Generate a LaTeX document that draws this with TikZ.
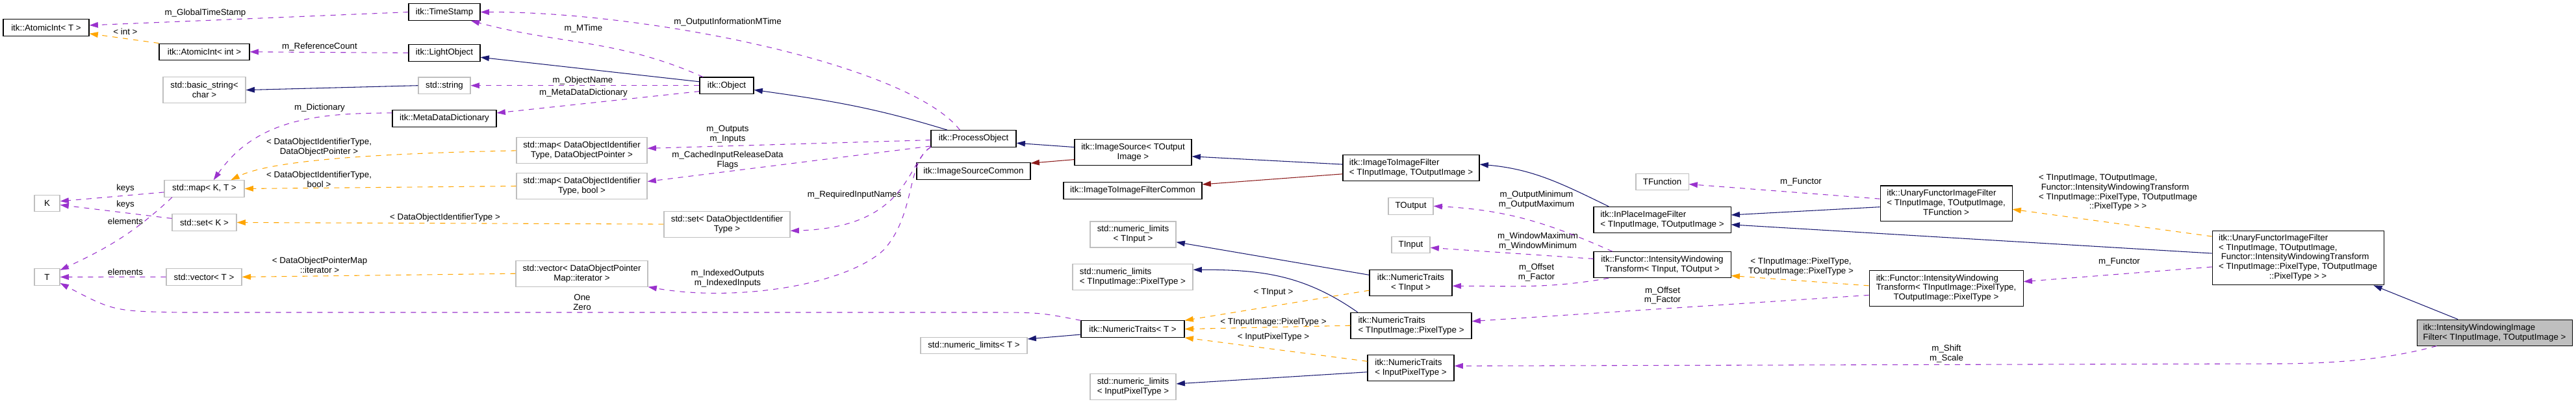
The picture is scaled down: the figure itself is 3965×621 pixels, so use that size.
\documentclass[tikz,border=0pt]{standalone}
\usepackage{fontspec}
\setmainfont{Liberation Sans}
\usepackage{xcolor}
\usepackage{tikz}
\usetikzlibrary{arrows.meta}
\definecolor{inhblue}{HTML}{191970}
\definecolor{privred}{HTML}{8B1A1A}
\definecolor{memberviolet}{HTML}{9A32CD}
\definecolor{tmplorange}{HTML}{FFA500}
\definecolor{extgrey}{HTML}{BFBFBF}
\newcommand{\lastc}[1]{\multicolumn{1}{@{}c@{}}{#1}}

\begin{document}
\begin{tikzpicture}[x=0.75pt, y=-0.75pt, font=\fontsize{10}{11.2}\selectfont,
  cls/.style={draw=black, line width=0.8pt, inner sep=1pt, minimum height=19.1pt, align=center},
  ext/.style={cls, draw=extgrey},
  lines2/.style={minimum height=30pt},
  lines3/.style={minimum height=41pt},
  lbl/.style={inner sep=0pt, align=center},
  inh/.style={color=inhblue, line width=0.8pt, -{Triangle[length=10pt,width=6.5pt]}},
  priv/.style={inh, color=privred},
  member/.style={inh, color=memberviolet, dash pattern=on 6pt off 6pt},
  tmpl/.style={member, color=tmplorange}]
\useasboundingbox (0,0) rectangle (3965,621);
\node[cls, minimum width=99pt] (AtomicIntT) at (71,42.4) {itk::AtomicInt< T >};
\node[cls, minimum width=104.25pt] (AtomicIntInt) at (314.5,79.8) {itk::AtomicInt< int >};
\node[ext, lines2, minimum width=95.25pt] (BasicString) at (314.5,138.6) {std::basic\_string<\\ char >};
\node[ext, minimum width=92.25pt] (MapKT) at (314.5,290.5) {std::map< K, T >};
\node[ext, minimum width=29.25pt] (K) at (72.5,313) {K};
\node[ext, minimum width=74.25pt] (SetK) at (314.5,342.5) {std::set< K >};
\node[ext, minimum width=29.25pt] (T) at (72.5,426.5) {T};
\node[ext, minimum width=87pt] (VectorT) at (314,426.4) {std::vector< T >};
\node[cls, minimum width=82.5pt] (TimeStamp) at (684,18.6) {itk::TimeStamp};
\node[cls, minimum width=82.5pt] (LightObject) at (684,81.4) {itk::LightObject};
\node[ext, minimum width=60pt] (StdString) at (684,131.7) {std::string};
\node[cls, minimum width=120pt] (MetaDict) at (684,182.4) {itk::MetaDataDictionary};
\node[cls, minimum width=62.25pt] (Object) at (1118.5,131.7) {itk::Object};
\node[ext, lines2, minimum width=150.75pt] (MapDOP) at (895.5,231.9) {std::map< DataObjectIdentifier\\Type, DataObjectPointer >};
\node[ext, lines2, minimum width=150.75pt] (MapBool) at (895.5,286.5) {std::map< DataObjectIdentifier\\Type, bool >};
\node[ext, lines2, minimum width=145.5pt] (SetDOI) at (1119,345.1) {std::set< DataObjectIdentifier\\Type >};
\node[ext, lines2, minimum width=152.25pt] (VectorIt) at (895.5,421.2) {std::vector< DataObjectPointer\\Map::iterator >};
\node[cls, minimum width=98.25pt] (ProcessObject) at (1498.5,213.3) {itk::ProcessObject};
\node[cls, minimum width=131.25pt] (SourceCommon) at (1498.5,263.6) {itk::ImageSourceCommon};
\node[cls, lines2, minimum width=135pt] (ImageSource) at (1744,234.5) {itk::ImageSource< TOutput\\Image >};
\node[cls, minimum width=159.75pt] (FilterCommon) at (1743.5,293.3) {itk::ImageToImageFilterCommon};
\node[ext, lines2, minimum width=99pt] (LimitsTInput) at (1744,361) {std::numeric\_limits\\< TInput >};
\node[ext, lines2, align=left, minimum width=138.75pt] (LimitsTIIPT) at (1743.5,426.7) {std::numeric\_limits\\< TInputImage::PixelType >};
\node[cls, minimum width=119.25pt] (TraitsT) at (1743.5,506.6) {itk::NumericTraits< T >};
\node[ext, minimum width=123pt] (LimitsT) at (1499,532.1) {std::numeric\_limits< T >};
\node[ext, lines2, align=left, minimum width=99pt] (LimitsIPT) at (1744,595.6) {std::numeric\_limits\\< InputPixelType >};
\node[cls, lines2, align=left, minimum width=157.5pt] (ImageToImage) at (2172,258.6) {itk::ImageToImageFilter\\< TInputImage, TOutputImage >};
\node[ext, minimum width=51.75pt] (TOutput) at (2171.5,317.3) {TOutput};
\node[ext, minimum width=44.25pt] (TInput) at (2171.5,377.1) {TInput};
\node[cls, lines2, minimum width=95.25pt] (TraitsTInput) at (2171.5,435.8) {itk::NumericTraits\\< TInput >};
\node[cls, lines2, align=left, minimum width=139.5pt] (TraitsTIIPT) at (2172,501.2) {itk::NumericTraits\\< TInputImage::PixelType >};
\node[cls, lines2, align=left, minimum width=99.75pt] (TraitsIPT) at (2171.5,566.9) {itk::NumericTraits\\< InputPixelType >};
\node[ext, minimum width=60.75pt] (TFunction) at (2558.5,280) {TFunction};
\node[cls, lines2, align=left, minimum width=158.25pt] (InPlace) at (2558.5,338.4) {itk::InPlaceImageFilter\\< TInputImage, TOutputImage >};
\node[cls, lines2, minimum width=158.25pt] (WinTransform) at (2558.5,407.7) {itk::Functor::IntensityWindowing\\Transform< TInput, TOutput >};
\node[cls, lines3, minimum width=152.25pt] (UnaryFunction) at (2995.5,313.3) {\begin{tabular}{@{}l@{}}itk::UnaryFunctorImageFilter\\< TInputImage, TOutputImage,\\\lastc{TFunction >}\end{tabular}};
\node[cls, lines3, minimum width=177.75pt] (WinTransformPix) at (2995.5,444) {\begin{tabular}{@{}l@{}}itk::Functor::IntensityWindowing\\Transform< TInputImage::PixelType,\\\lastc{TOutputImage::PixelType >}\end{tabular}};
\node[cls, minimum height=62.7pt, minimum width=198pt] (UnaryWindowing) at (3537,397) {\begin{tabular}{@{}l@{}}itk::UnaryFunctorImageFilter\\< TInputImage, TOutputImage,\\\ Functor::IntensityWindowingTransform\\< TInputImage::PixelType, TOutputImage\\\lastc{::PixelType > >}\end{tabular}};
\node[cls, lines2, align=left, fill=extgrey, minimum width=179.25pt] (WinFilter) at (3839.5,512.1) {itk::IntensityWindowingImage\\Filter< TInputImage, TOutputImage >};

\node[lbl] (lGlobalStamp) at (316,19.8) {m\_GlobalTimeStamp};
\node[lbl] (lIntArg) at (193,48.3) {< int >};
\node[lbl] (lRefCount) at (492,72.5) {m\_ReferenceCount};
\node[lbl] (lDictionary) at (492,166.3) {m\_Dictionary};
\node[lbl] (lMapPointer) at (491,226.8) {< DataObjectIdentifierType,\\DataObjectPointer >};
\node[lbl] (lMapBool) at (491,276) {< DataObjectIdentifierType,\\bool >};
\node[lbl] (lSetId) at (685,334.7) {< DataObjectIdentifierType >};
\node[lbl] (lKeysMap) at (193,290.3) {keys};
\node[lbl] (lKeysSet) at (193,315.2) {keys};
\node[lbl] (lElemMap) at (193,340.6) {elements};
\node[lbl] (lElemVec) at (193,418.6) {elements};
\node[lbl] (lIterator) at (492,408) {< DataObjectPointerMap\\::iterator >};
\node[lbl] (lOneZero) at (896,465.3) {One\\Zero};
\node[lbl] (lMTime) at (898,43.6) {m\_MTime};
\node[lbl] (lInfoMTime) at (1120,34.5) {m\_OutputInformationMTime};
\node[lbl] (lObjName) at (897,123.6) {m\_ObjectName};
\node[lbl] (lMetaDict) at (898,143.4) {m\_MetaDataDictionary};
\node[lbl] (lInOut) at (1120,206.7) {m\_Outputs\\m\_Inputs};
\node[lbl] (lRelease) at (1120,246.7) {m\_CachedInputReleaseData\\Flags};
\node[lbl] (lRequired) at (1315,300.2) {m\_RequiredInputNames};
\node[lbl] (lIndexed) at (1120,428.1) {m\_IndexedOutputs\\m\_IndexedInputs};
\node[lbl] (lArgTInput) at (1960,450.7) {< TInput >};
\node[lbl] (lArgPixel) at (1960,496.2) {< TInputImage::PixelType >};
\node[lbl] (lArgIPT) at (1960,518.8) {< InputPixelType >};
\node[lbl] (lOutMinMax) at (2365,307.3) {m\_OutputMinimum\\m\_OutputMaximum};
\node[lbl] (lWinMaxMin) at (2367,371.9) {m\_WindowMaximum\\m\_WindowMinimum};
\node[lbl] (lOffsetA) at (2365,419.8) {m\_Offset\\m\_Factor};
\node[lbl] (lOffsetB) at (2559,455) {m\_Offset\\m\_Factor};
\node[lbl] (lShiftScale) at (2996,544.2) {m\_Shift\\m\_Scale};
\node[lbl] (lFunctorA) at (2772,280.4) {m\_Functor};
\node[lbl] (lArgPixelTypes) at (2772,410.7) {< TInputImage::PixelType,\\TOutputImage::PixelType >};
\node[lbl] (lArgUnary) at (3260,296.6) {\begin{tabular}{@{}l@{}}< TInputImage, TOutputImage,\\\ Functor::IntensityWindowingTransform\\< TInputImage::PixelType, TOutputImage\\\lastc{::PixelType > >}\end{tabular}};
\node[lbl] (lFunctorB) at (3262,403.2) {m\_Functor};

\draw[member] (TimeStamp.west) -- (AtomicIntT.3);
\draw[tmpl] (AtomicIntInt.north west) -- (AtomicIntT.-8);
\draw[member] (LightObject.west) -- (AtomicIntInt.east);
\draw[inh] (StdString.west) -- (BasicString.east);
\draw[member] (MetaDict.174) to[out=180,in=55] (MapKT.43);
\draw[tmpl] (MapDOP.west) .. controls (600,236) and (420,245) .. (MapKT.18);
\draw[tmpl] (MapBool.west) -- (MapKT.east);
\draw[tmpl] (SetDOI.west) -- (SetK.east);
\draw[member] (MapKT.185) -- (K.9);
\draw[member] (SetK.173) -- (K.-7);
\draw[member] (MapKT.195) to[out=223,in=25] (T.28);
\draw[member] (VectorT.west) -- (T.east);
\draw[tmpl] (VectorIt.west) -- (VectorT.east);
\draw[member] (TraitsT.north west) .. controls (1600,481) .. (1517,481) -- (277,481) .. controls (175,479) .. (T.-25);
\draw[member] (Object.160) to[out=156,in=-15] (TimeStamp.-18);
\draw[member] (ProcessObject.148) .. controls (1400,100) and (1000,18) .. (TimeStamp.east);
\draw[inh] (Object.172) -- (LightObject.-7);
\draw[member] (Object.west) -- (StdString.east);
\draw[member] (Object.192) -- (MetaDict.6);
\draw[inh] (ProcessObject.162) to[out=163,in=-8] (Object.-9);
\draw[member] (ProcessObject.182) -- (MapDOP.2);
\draw[member] (ProcessObject.190) -- (MapBool.4);
\draw[member] (ProcessObject.south west) .. controls (1395,250) and (1400,350) .. (SetDOI.-6);
\draw[member] (ProcessObject.south west) .. controls (1395,250) and (1410,330) .. (1360,385) .. controls (1300,440) and (1130,465) .. (VectorIt.south east);
\draw[inh] (ImageSource.175) -- (ProcessObject.-6);
\draw[priv] (ImageSource.187) -- (SourceCommon.8);
\draw[inh] (ImageToImage.177) -- (ImageSource.-4);
\draw[priv] (ImageToImage.185) -- (FilterCommon.5);
\draw[inh] (TraitsTInput.169) -- (LimitsTInput.-10);
\draw[inh] (TraitsTIIPT.166) to[out=145,in=0] (LimitsTIIPT.7);
\draw[tmpl] (TraitsTInput.190) -- (TraitsT.north east);
\draw[tmpl] (TraitsTIIPT.west) -- (TraitsT.east);
\draw[tmpl] (TraitsIPT.171) -- (TraitsT.south east);
\draw[inh] (TraitsT.186) -- (LimitsT.7);
\draw[inh] (TraitsIPT.185) -- (LimitsIPT.4);
\draw[inh] (InPlace.166) to[out=154,in=-5] (ImageToImage.3);
\draw[member] (WinTransform.165) to[out=156,in=-3] (TOutput.east);
\draw[member] (WinTransform.175) -- (TInput.-8);
\draw[member] (WinTransform.194) to[out=190,in=0] (TraitsTInput.-4);
\draw[member] (WinTransformPix.185) -- (TraitsTIIPT.4);
\draw[member] (WinFilter.193) .. controls (3680,552) and (3600,560) .. (3500,560) -- (TraitsIPT.3);
\draw[member] (UnaryFunction.176) -- (TFunction.-5);
\draw[inh] (UnaryFunction.183) -- (InPlace.4);
\draw[inh] (UnaryWindowing.177) -- (InPlace.-4);
\draw[tmpl] (WinTransformPix.178) -- (WinTransform.-9);
\draw[tmpl] (UnaryWindowing.166) -- (UnaryFunction.-5);
\draw[member] (UnaryWindowing.186) -- (WinTransformPix.5);
\draw[inh] (WinFilter.160) -- (UnaryWindowing.-20);
\end{tikzpicture}
\end{document}
